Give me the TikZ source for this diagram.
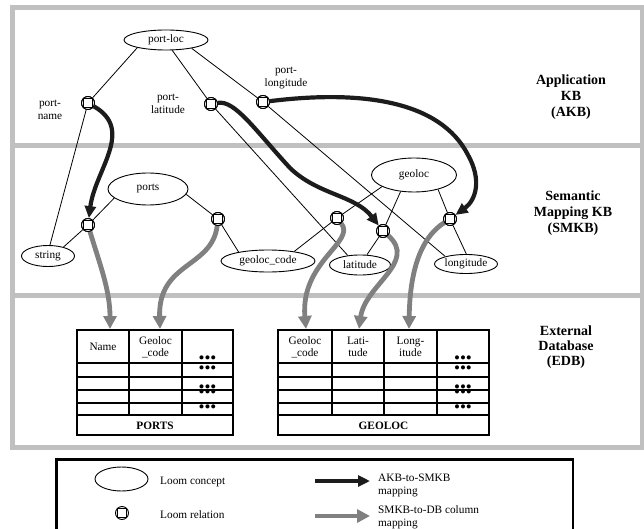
\documentclass[tikz,border=0pt]{standalone}
\usepackage{fontspec}
\setmainfont{Liberation Serif}
\usetikzlibrary{arrows.meta,shapes.geometric,calc}
\definecolor{bandgray}{RGB}{192,192,192}
\definecolor{mapgray}{RGB}{128,128,128}
\definecolor{mapblack}{RGB}{28,28,28}
\begin{document}
\begin{tikzpicture}[x=1pt,y=-1pt,
  lbl/.style={font=\fontsize{11.3}{13}\selectfont, align=center, inner sep=0},
  hdr/.style={font=\fontsize{11.3}{12}\selectfont, align=center, inner sep=0},
  side/.style={font=\fontsize{14}{16}\selectfont\bfseries, align=center, inner sep=0},
  tname/.style={font=\fontsize{11.3}{13}\selectfont\bfseries, inner sep=0},
  concept/.style={ellipse, draw, line width=0.9pt, inner sep=0, font=\fontsize{11.3}{13}\selectfont},
  relation/.style={circle, draw, line width=0.9pt, minimum size=13pt, inner sep=0},
  link/.style={line width=0.8pt},
  akbmap/.style={line width=4.2pt, draw=mapblack, -{Triangle[length=12pt,width=11pt]}},
  smkbmap/.style={line width=4.8pt, draw=mapgray, -{Triangle[length=13pt,width=13pt]}},
  band/.style={line width=5pt, draw=bandgray},
  grid/.style={line width=1.2pt},
  namebox/.style={line width=2.2pt},
  dots/.style={font=\fontsize{17}{17}\selectfont, inner sep=0},
]
\useasboundingbox (0,0) rectangle (644,529);

% frame
\draw[band] (12,7.5) rectangle (642,447.5);
\draw[band] (12,145.5) -- (642,145.5);
\draw[band] (12,295.5) -- (642,295.5);

% side labels
\node[side] (akb) at (571,97) {Application\\KB\\(AKB)};
\node[side] (smkb) at (573,213) {Semantic\\Mapping KB\\(SMKB)};
\node[side, font=\fontsize{14}{15}\selectfont\bfseries] (edb) at (566,347.5) {External\\Database\\(EDB)};

% concepts
\node[concept, minimum width=84pt, minimum height=20pt] (portloc) at (166,40) {port-loc};
\node[concept, minimum width=80pt, minimum height=32pt] (ports) at (148,189) {ports};
\node[concept, minimum width=85pt, minimum height=34pt] (geoloc) at (414,175) {geoloc};
\node[concept, minimum width=53pt, minimum height=21pt] (string) at (48,256) {string};
\node[concept, minimum width=94pt, minimum height=22pt] (geoloccode) at (268,261) {geoloc\_code};
\node[concept, minimum width=61pt, minimum height=20pt] (latitude) at (360,265) {latitude};
\node[concept, minimum width=63pt, minimum height=19pt] (longitude) at (466,264) {longitude};

% relations
\node[relation] (rPN) at (88,103) {};
\node[relation] (rPLat) at (211,104) {};
\node[relation] (rPLon) at (263,102) {};
\node[relation] (r1) at (88,225) {};
\node[relation] (r2) at (218,219) {};
\node[relation] (r3) at (337,218) {};
\node[relation] (r4) at (383,231) {};
\node[relation] (r5) at (450,219) {};

% relation labels
\node[lbl] (lpn) at (50,110) {port-\\name};
\node[lbl] (lplat) at (168,103.5) {port-\\latitude};
\node[lbl] (lplon) at (286,78) {port-\\longitude};

% thin links
\draw[link] (portloc.195) -- (rPN);
\draw[link] (portloc.-59) -- (rPLat);
\draw[link] (portloc.-18) -- (rPLon);
\draw[link] (rPN) -- (string.80);
\draw[link] (rPLat) -- (latitude.142);
\draw[link] (rPLon) -- (longitude.160);
\draw[link] (ports.195) -- (r1);
\draw[link] (r1) -- (string.30);
\draw[link] (ports.-8) -- (r2);
\draw[link] (r2) -- (geoloccode.163);
\draw[link] (geoloc.200) -- (r3);
\draw[link] (r3) -- (geoloccode.20);
\draw[link] (geoloc.231) -- (r4);
\draw[link] (r4) -- (latitude.56);
\draw[link] (geoloc.-31) -- (r5);
\draw[link] (r5) -- (longitude.88);

% tables
\draw[grid] (77,330) rectangle (233,415);
\foreach \yy in {363,377,390,403} \draw[grid] (77,\yy) -- (233,\yy);
\foreach \xx in {129,182} \draw[grid] (\xx,330) -- (\xx,415);
\draw[namebox] (77,415) rectangle (233,435);
\node[tname] (tports) at (155,425.5) {PORTS};

\draw[grid] (278,330) rectangle (489,415);
\foreach \yy in {363,377,390,403} \draw[grid] (278,\yy) -- (489,\yy);
\foreach \xx in {332,384,437} \draw[grid] (\xx,330) -- (\xx,415);
\draw[namebox] (278,415) rectangle (489,435);
\node[tname] (tgeoloc) at (383.5,425.5) {GEOLOC};

\node[hdr] (hName) at (103,346.5) {Name};
\node[hdr] (hGc1) at (155.5,347) {Geoloc\\\_code};
\node[hdr] (hGc2) at (305,347) {Geoloc\\\_code};
\node[hdr] (hLat) at (358,347) {Lati-\\tude};
\node[hdr] (hLong) at (410.5,347) {Long-\\itude};

\foreach \yy [count=\i] in {358,368,387,392,407} {
  \node[dots] (pd\i) at (207.5,\yy+1.5) {•••};
  \node[dots] (gd\i) at (463,\yy+1.5) {•••};
}

% column targets
\coordinate (tName) at (110,329);
\coordinate (tGc1) at (160,329);
\coordinate (tGc2) at (306,329);
\coordinate (tLat) at (359,329);
\coordinate (tLong) at (409,329);

% SMKB-to-DB mappings
\draw[smkbmap] (r1) .. controls (100,265) and (110,290) .. (tName);
\draw[smkbmap] (r2) .. controls (212,268) and (158,262) .. (tGc1);
\draw[smkbmap] (r3) .. controls (356,242) and (300,262) .. (tGc2);
\draw[smkbmap] (r4) .. controls (418,262) and (365,285) .. (tLat);
\draw[smkbmap] (r5) .. controls (425,235) and (410,262) .. (tLong);

% AKB-to-SMKB mappings
\draw[akbmap] (rPN) .. controls (135,130) and (95,170) .. (r1);
\draw[akbmap] (rPLat) .. controls (235,100) and (255,130) .. (290,168) .. controls (318,195) and (355,195) .. (r4);
\draw[akbmap] (rPLon) .. controls (360,90) and (440,100) .. (468,155) .. controls (482,180) and (476,200) .. (r5);

% relation squares (drawn on top)
\foreach \r in {rPN,rPLat,rPLon,r1,r2,r3,r4,r5} {
  \fill[white] (\r.center) circle (6pt);
  \draw[line width=0.9pt] (\r.center) circle (6.5pt);
  \draw[line width=0.8pt] ([shift={(-4.2pt,-4.2pt)}]\r.center) rectangle ([shift={(4.2pt,4.2pt)}]\r.center);
}

% legend
\draw[line width=2.5pt] (56.5,459.5) rectangle (573,540);
\node[concept, minimum width=53pt, minimum height=24pt] (legC) at (121.5,479) {};
\node[relation] (legR) at (122,513) {};
\draw[line width=0.8pt] ([shift={(-4.2pt,-4.2pt)}]legR.center) rectangle ([shift={(4.2pt,4.2pt)}]legR.center);
\node[lbl, anchor=west] (legCt) at (160,482) {Loom concept};
\node[lbl, anchor=west] (legRt) at (160,515) {Loom relation};
\coordinate (la1) at (315,481);
\coordinate (la2) at (370,481);
\draw[akbmap] (la1) -- (la2);
\coordinate (lg1) at (315,516);
\coordinate (lg2) at (370,516);
\draw[smkbmap] (lg1) -- (lg2);
\node[lbl, anchor=west, align=left] (legAt) at (378,485) {AKB-to-SMKB\\mapping};
\node[lbl, anchor=west, align=left] (legGt) at (378,517.5) {SMKB-to-DB column\\mapping};
\end{tikzpicture}
\end{document}
